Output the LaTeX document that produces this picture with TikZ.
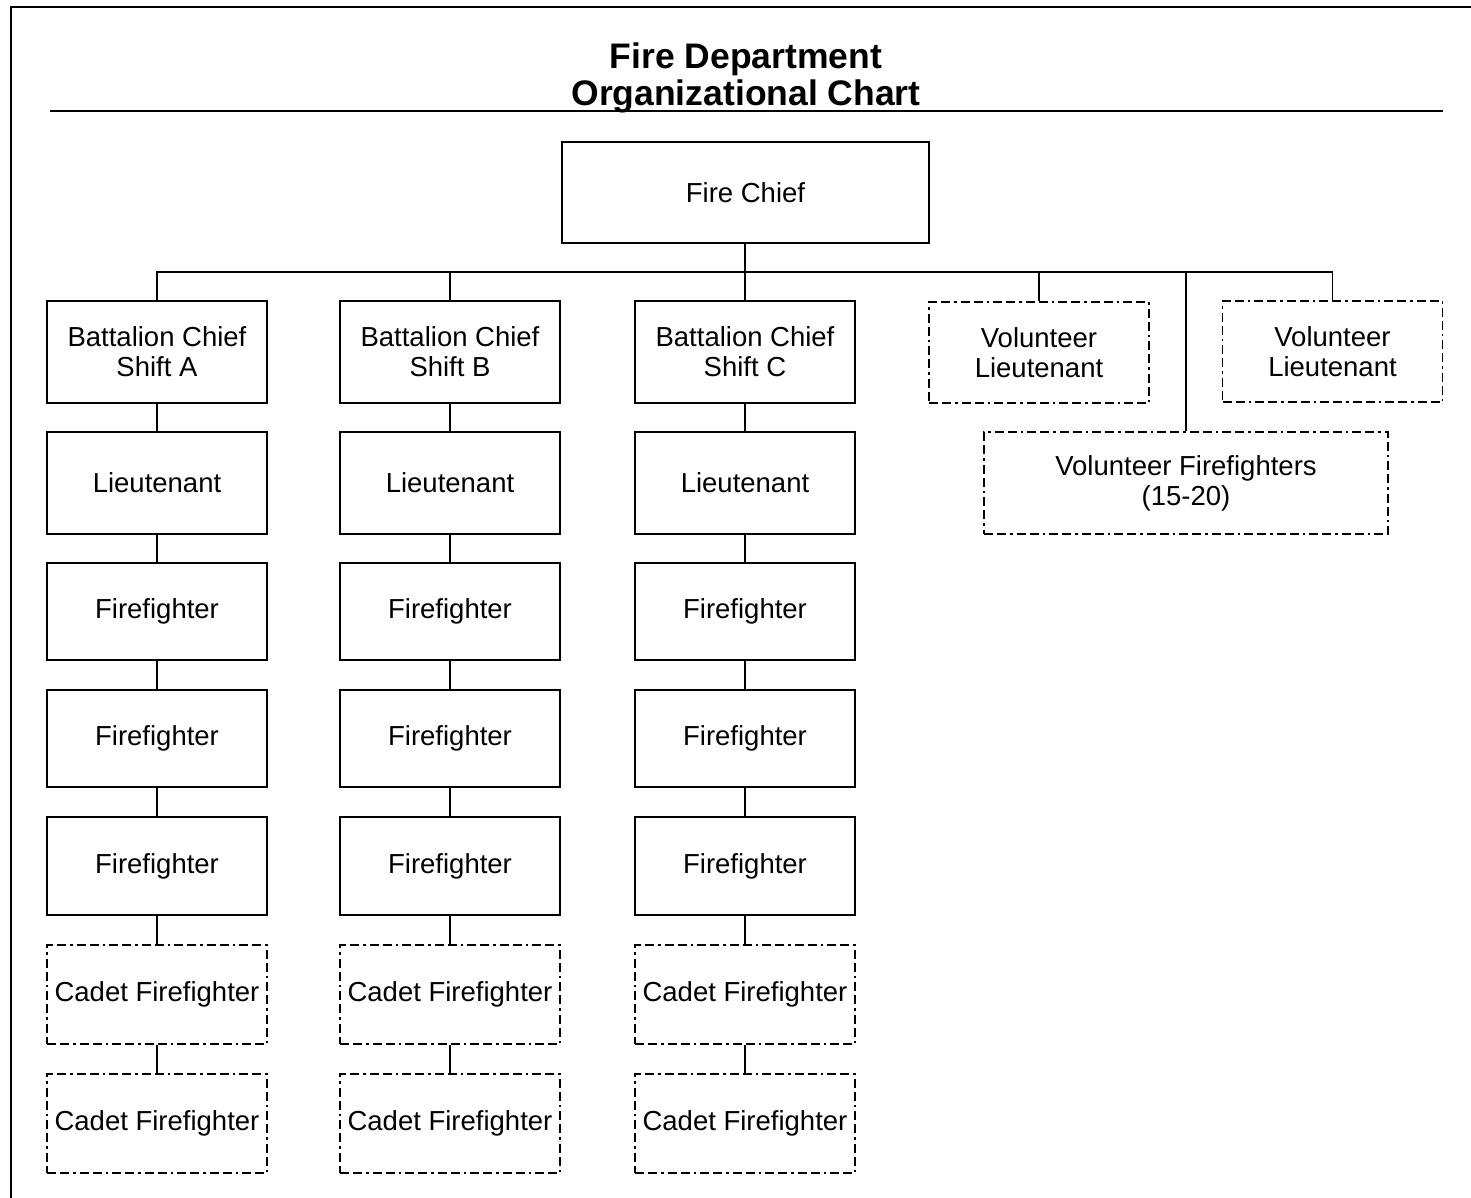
\documentclass[tikz,border=0pt]{standalone}
\usepackage{fontspec}
\setmainfont{Liberation Sans}
\begin{document}
\begin{tikzpicture}[x=1pt,y=-1pt,
  line width=1.6pt,
  box/.style={draw, line width=1.6pt, minimum width=220pt, inner sep=0pt, align=center,
    font=\fontsize{27.5}{30}\selectfont},
  dbox/.style={box, dash pattern=on 9pt off 4pt on 9pt off 4pt on 2.5pt off 4pt},
  titletext/.style={font=\fontsize{35.5}{38}\selectfont\bfseries, inner sep=0pt, anchor=base},
  link/.style={line width=1.6pt}]
\useasboundingbox (0,0) rectangle (1471,1198);

% outer frame (runs off the page on the right and bottom)
\draw[line width=2pt] (11,1198) -- (11,7) -- (1471,7);

% title and rule
\node[titletext] (t1) at (746,69) {Fire Department};
\node[titletext] (t2) at (746,106) {Organizational Chart};
\draw[line width=2.2pt] (50,111) -- (1443,111);

% head of department
\node[box, minimum width=367pt, minimum height=101pt] (chief) at (745.5,192.5) {Fire Chief};

% three shift columns
\foreach \c/\x/\s in {a/157/A, b/450/B, c/745/C}{
  \node[box, minimum height=102pt] (\c1) at (\x,352) {Battalion Chief\\Shift \s};
  \node[box, minimum height=102pt] (\c2) at (\x,483) {Lieutenant};
  \node[box, minimum height=97pt]  (\c3) at (\x,611.5) {Firefighter};
  \node[box, minimum height=97pt]  (\c4) at (\x,738.5) {Firefighter};
  \node[box, minimum height=98pt]  (\c5) at (\x,866) {Firefighter};
  \node[dbox, minimum height=99pt] (\c6) at (\x,994.5) {Cadet Firefighter};
  \node[dbox, minimum height=99pt] (\c7) at (\x,1123.5) {Cadet Firefighter};
  \foreach \i/\j in {1/2,2/3,3/4,4/5,5/6,6/7}{
    \draw[link] (\c\i.south) -- (\c\j.north);
  }
}

% volunteer branch
\node[dbox, minimum height=101pt] (vl1) at (1039,352.5) {Volunteer\\Lieutenant};
\node[dbox, minimum height=101pt] (vl2) at (1332.5,351.5) {Volunteer\\Lieutenant};
\node[dbox, minimum width=404pt, minimum height=102pt] (vf) at (1186,483) {Volunteer Firefighters\\(15-20)};

% reporting bus
\coordinate (bus) at (745,272);
\draw[link] (chief.south -| c1.north) -- (c1.north);
\draw[link] (a1.north) |- (bus) -| (vl2.north);
\draw[link] (b1.north) -- (b1.north |- bus);
\draw[link] (vl1.north) -- (vl1.north |- bus);
\draw[link] (vf.north) -- (vf.north |- bus);
\end{tikzpicture}
\end{document}
